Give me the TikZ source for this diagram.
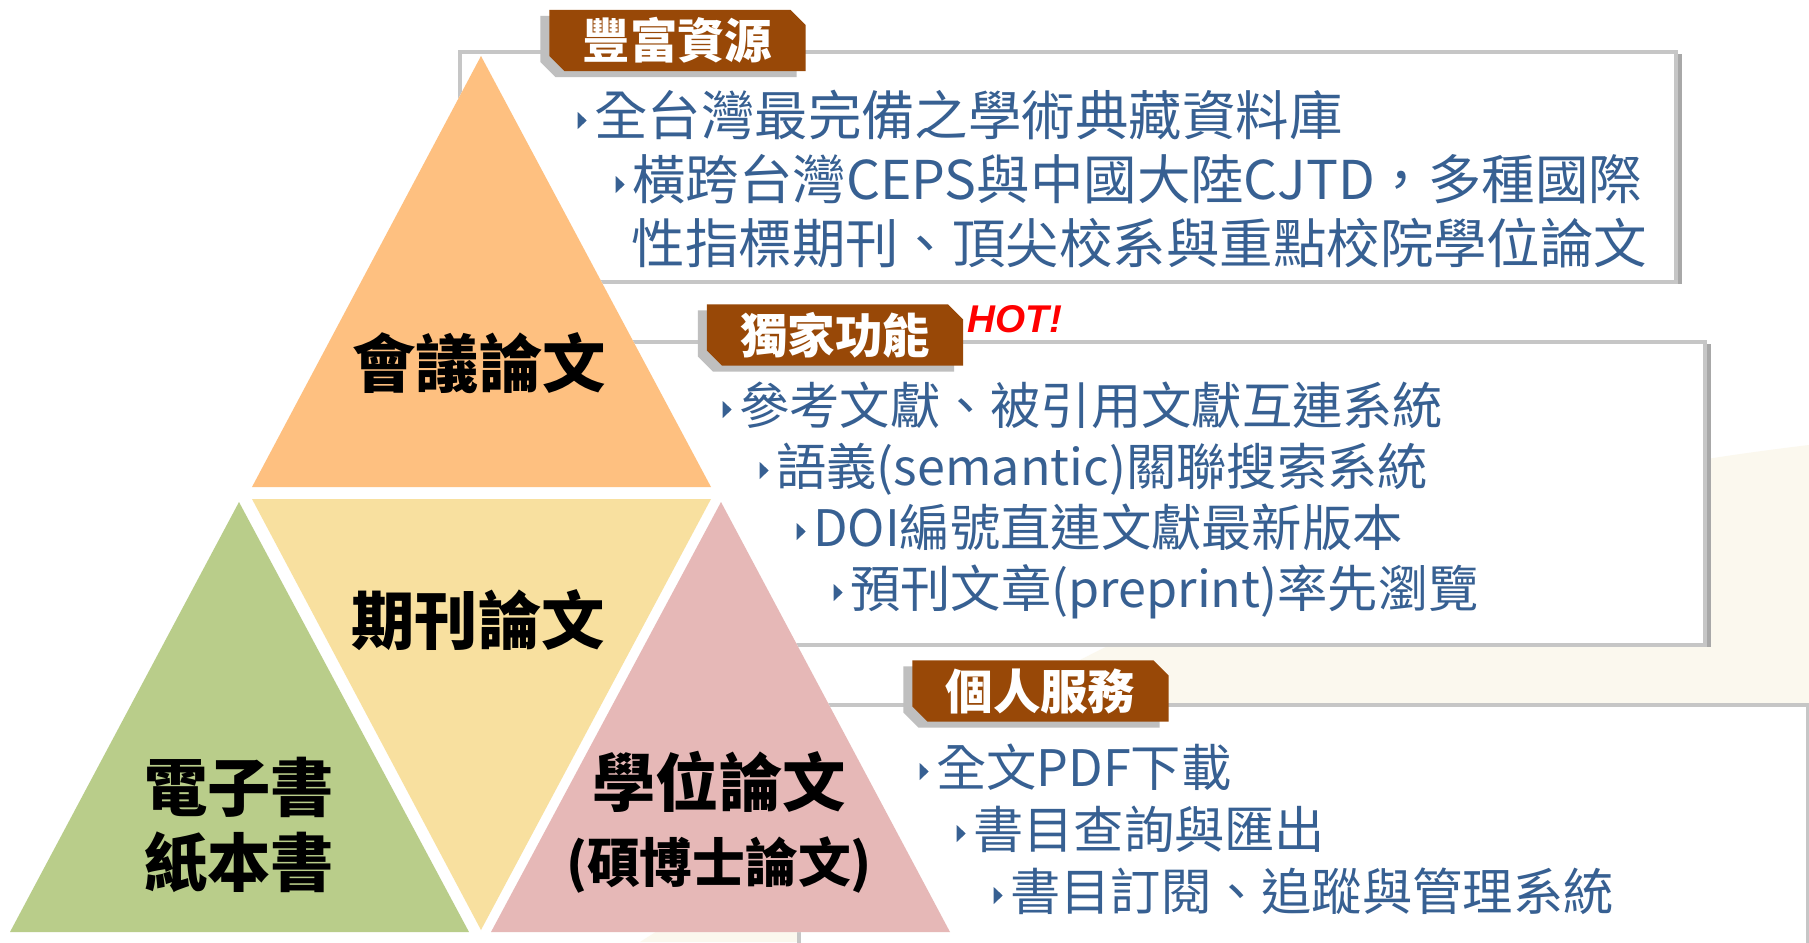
\documentclass[tikz,border=0pt]{standalone}
\usepackage{fontspec}
\setmainfont{Noto Sans CJK TC}
\newfontfamily\hotfont{Liberation Sans}
\usetikzlibrary{shapes.misc,shadows}

\definecolor{triorange}{HTML}{FEC080}
\definecolor{triyellow}{HTML}{F8E09F}
\definecolor{trigreen}{HTML}{B9CD8A}
\definecolor{tripink}{HTML}{E6B8B7}
\definecolor{tagbrown}{HTML}{984807}
\definecolor{textblue}{HTML}{376092}
\definecolor{framegrey}{HTML}{C6C6C6}
\definecolor{shadowgrey}{HTML}{A8A8A8}
\definecolor{tagshade}{HTML}{BFBFBF}
\definecolor{cream}{HTML}{FBF8EE}

% small blue bullet in front of each item
\newcommand\bul{\tikz[x=0.01cm,y=0.01cm,baseline=0pt]{\path (0,0); \fill[textblue] (0,6) -- (0,23) -- (9,14.5) -- cycle;}\hspace{0.075cm}}

\begin{document}
\begin{tikzpicture}[x=0.01cm,y=-0.01cm,
  tri label/.style={font=\fontsize{18}{21.5}\selectfont\bfseries, align=center, inner sep=0pt},
  item/.style={anchor=base west, inner sep=0pt, text=textblue, font=\fontsize{15.2}{18}\selectfont},
  small item/.style={item, font=\fontsize{14.3}{17}\selectfont},
  tagbox/.style={chamfered rectangle, chamfered rectangle corners={north east,south west},
    chamfered rectangle xsep=0.08cm, chamfered rectangle ysep=0.07cm,
    fill=tagbrown, text=white, font=\fontsize{13.5}{16}\selectfont\bfseries,
    minimum width=2.56cm, minimum height=0.61cm, inner sep=0pt,
    drop shadow={shadow xshift=-0.09cm, shadow yshift=-0.06cm, fill=tagshade, opacity=1}},
  panel/.style={draw=framegrey, line width=0.045cm, fill=white,
    drop shadow={shadow xshift=0.06cm, shadow yshift=-0.02cm, fill=shadowgrey, opacity=1}},
  hot/.style={text=red, inner sep=0pt, font=\hotfont\fontsize{11}{13}\selectfont\bfseries\itshape}]
\useasboundingbox (0,0) rectangle (1809,942);
\fill[white] (0,0) rectangle (1809,942);

% background
\fill[cream] (640,942) -- (1080,660) .. controls (1350,520) and (1600,470) .. (1809,445) -- (1809,942) -- cycle;

% panels
\draw[panel] (460,52) rectangle (1676,282);
\draw[panel] (622,342) rectangle (1705,645);
\draw[panel] (799,705) rectangle (1808,1000);

% triangles
\fill[white] (481,56) -- (711,487) -- (721,502) -- (950,932) -- (10,932) -- (239,502) -- (252,487) -- cycle;
\fill[triorange] (481,56) -- (711,487) -- (252,487) -- cycle;
\fill[triyellow] (252,499) -- (711,499) -- (481,930) -- cycle;
\fill[trigreen] (239,502) -- (469,932) -- (10,932) -- cycle;
\fill[tripink] (721,502) -- (950,932) -- (491,932) -- cycle;

\node[tri label] (conf) at (479,363) {會議論文};
\node[tri label] (jour) at (478,620) {期刊論文};
\node[tri label] (book) at (239,825) {電子書\\紙本書};
\node[tri label] (thes) at (719,822) {學位論文\\{\fontsize{15}{18}\selectfont(碩博士論文)}};

% tags
\node[tagbox] (res) at (677.5,40.5) {豐富資源};
\node[tagbox] (func) at (835,335) {獨家功能};
\node[tagbox] (serv) at (1040.5,691) {個人服務};
\node[hot] (hot) at (1015,319) {HOT!};

% items
\node[item] (res1) at (577,135) {\bul 全台灣最完備之學術典藏資料庫};
\node[item] (res2) at (615,199) {\bul 橫跨台灣CEPS與中國大陸CJTD，多種國際};
\node[item] (res3) at (631,263) {性指標期刊、頂尖校系與重點校院學位論文};

\foreach \t [count=\i] in {參考文獻、被引用文獻互連系統, 語義(semantic)關聯搜索系統,
    DOI編號直連文獻最新版本, 預刊文章(preprint)率先瀏覽}
  \node[small item] (func\i) at ({722+37*(\i-1)},{424+61*(\i-1)}) {\bul \t};

\foreach \t [count=\i] in {全文PDF下載, 書目查詢與匯出, 書目訂閱、追蹤與管理系統}
  \node[small item] (serv\i) at ({919+37*(\i-1)},{786+62*(\i-1)}) {\bul \t};
\end{tikzpicture}
\end{document}
